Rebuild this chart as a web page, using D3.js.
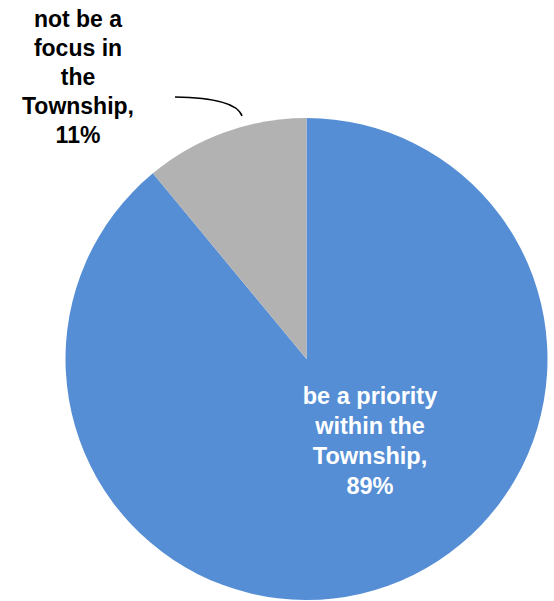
<!DOCTYPE html>
<html>
<head>
<meta charset="utf-8">
<script src="https://cdn.jsdelivr.net/npm/d3@7/dist/d3.min.js"></script>
<style>
  html, body { margin: 0; padding: 0; background: #fff; }
  svg { display: block; }
</style>
</head>
<body>
<div id="chart"></div>
<script>
// Survey responses: should this be a priority in the Township?
const categories = ["be a priority within the Township", "not be a focus in the Township"];
const values = [89, 11];
const colors = ["#558ED5", "#B2B2B2"];
const labelLines = [
  ["be a priority", "within the", "Township,", "89%"],
  ["not be a", "focus in", "the", "Township,", "11%"]
];

const width = 554, height = 601;
const cx = 306.5, cy = 359, radius = 241;

const svg = d3.select("#chart").append("svg")
  .attr("width", width).attr("height", height);

// Gray slice sits counter-clockwise from 12 o'clock, blue fills the rest
const pie = d3.pie().sort(null).value(d => d)
  .startAngle(0).endAngle(2 * Math.PI);
const arcs = pie(values);

const arc = d3.arc().innerRadius(0).outerRadius(radius);

const g = svg.append("g").attr("transform", `translate(${cx},${cy})`);

g.selectAll("path.slice")
  .data(arcs)
  .join("path")
  .attr("class", "slice")
  .attr("d", arc)
  .attr("fill", (d, i) => colors[i]);

const font = "'Liberation Sans', Arial, sans-serif";

// Label inside the large slice
const inner = svg.append("text")
  .attr("text-anchor", "middle")
  .attr("fill", "#fff")
  .attr("font-family", font)
  .attr("font-weight", "bold")
  .attr("font-size", 23.5);
labelLines[0].forEach((t, i) => {
  inner.append("tspan").attr("x", 370).attr("y", 404 + i * 30).text(t);
});

// Label outside the small slice
const outer = svg.append("text")
  .attr("text-anchor", "middle")
  .attr("fill", "#000")
  .attr("font-family", font)
  .attr("font-weight", "bold")
  .attr("font-size", 23);
labelLines[1].forEach((t, i) => {
  outer.append("tspan").attr("x", 78).attr("y", 27 + i * 29).text(t);
});

// Leader line from the outer label to the small slice
svg.append("path")
  .attr("d", "M175,97 Q236,98 242,116")
  .attr("fill", "none")
  .attr("stroke", "#000")
  .attr("stroke-width", 1.5);
</script>
</body>
</html>
